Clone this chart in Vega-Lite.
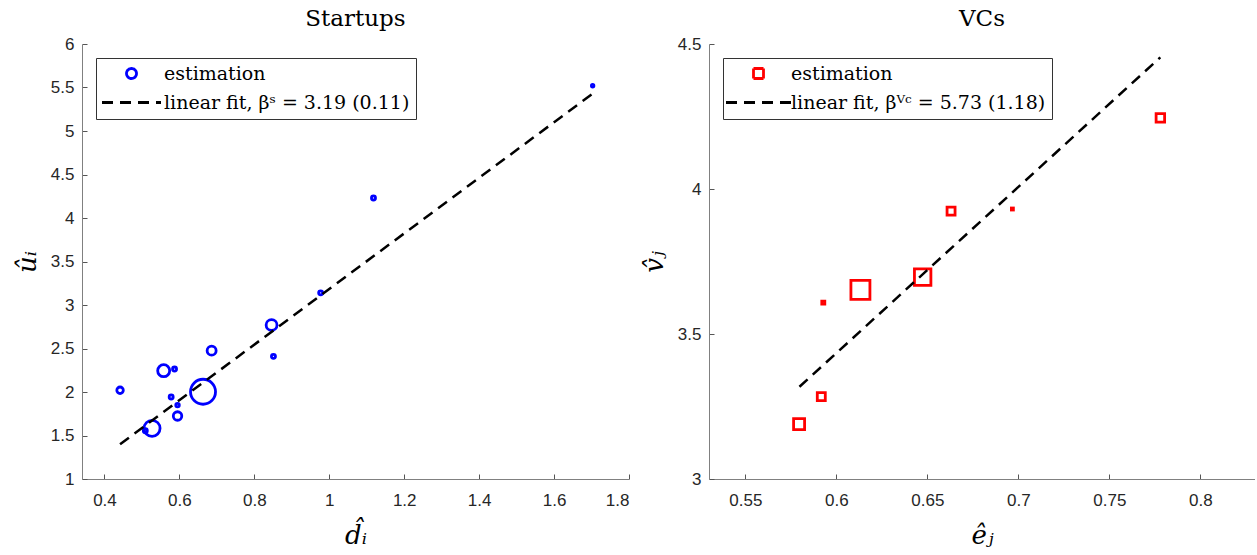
{
  "$schema": "https://vega.github.io/schema/vega-lite/v6.json",
  "background": "white",
  "padding": {"left": 14, "top": 8, "right": 0, "bottom": 0},
  "spacing": 80,
  "bounds": "flush",
  "resolve": {"scale": {"color": "independent", "shape": "independent", "strokeDash": "independent", "size": "independent", "x": "independent", "y": "independent"}, "legend": {"color": "independent", "shape": "independent", "strokeDash": "independent"}},
  "hconcat": [
    {
      "title": {"text": "Startups"},
      "width": 547,
      "height": 435,
      "layer": [
        {
          "data": {"values": [
            {"d": 0.4416, "u": 2.02, "w": 0.067, "series": "estimation"},
            {"d": 0.509, "u": 1.555, "w": 0.026, "series": "estimation"},
            {"d": 0.527, "u": 1.583, "w": 0.41, "series": "estimation"},
            {"d": 0.558, "u": 2.245, "w": 0.23, "series": "estimation"},
            {"d": 0.587, "u": 2.264, "w": 0.026, "series": "estimation"},
            {"d": 0.578, "u": 1.943, "w": 0.026, "series": "estimation"},
            {"d": 0.595, "u": 1.85, "w": 0.02, "series": "estimation"},
            {"d": 0.595, "u": 1.724, "w": 0.115, "series": "estimation"},
            {"d": 0.663, "u": 2.003, "w": 1.0, "series": "estimation"},
            {"d": 0.686, "u": 2.475, "w": 0.13, "series": "estimation"},
            {"d": 0.846, "u": 2.77, "w": 0.19, "series": "estimation"},
            {"d": 0.851, "u": 2.41, "w": 0.026, "series": "estimation"},
            {"d": 0.977, "u": 3.14, "w": 0.026, "series": "estimation"},
            {"d": 1.118, "u": 4.23, "w": 0.026, "series": "estimation"},
            {"d": 1.703, "u": 5.52, "w": 0.01, "series": "estimation"}
          ]},
          "mark": {"type": "point", "filled": false, "strokeWidth": 2.8, "opacity": 1},
          "encoding": {
            "x": {"field": "d", "type": "quantitative", "scale": {"domain": [0.34, 1.8], "nice": false, "zero": false},
                  "axis": {"values": [0.4, 0.6, 0.8, 1, 1.2, 1.4, 1.6, 1.8], "format": "~g", "title": "d̂ᵢ"}},
            "y": {"field": "u", "type": "quantitative", "scale": {"domain": [1, 6], "nice": false, "zero": false},
                  "axis": {"values": [1, 1.5, 2, 2.5, 3, 3.5, 4, 4.5, 5, 5.5, 6], "format": "~g", "title": "ûᵢ"}},
            "size": {"field": "w", "type": "quantitative", "scale": {"domain": [0, 1], "range": [0, 625]}, "legend": null},
            "color": {"field": "series", "type": "nominal",
                      "scale": {"domain": ["estimation", "linear fit, βˢ = 3.19 (0.11)"], "range": ["#0000ff", "#000000"]}},
            "shape": {"field": "series", "type": "nominal",
                      "scale": {"domain": ["estimation", "linear fit, βˢ = 3.19 (0.11)"], "range": ["circle", "M-5.9,0H5.9"]}}
          }
        },
        {
          "data": {"values": [
            {"d": 0.4416, "u": 1.40, "series": "linear fit, βˢ = 3.19 (0.11)"},
            {"d": 1.703, "u": 5.43, "series": "linear fit, βˢ = 3.19 (0.11)"}
          ]},
          "mark": {"type": "line", "strokeWidth": 2.5},
          "encoding": {
            "x": {"field": "d", "type": "quantitative"},
            "y": {"field": "u", "type": "quantitative"},
            "color": {"field": "series", "type": "nominal"},
            "strokeDash": {"field": "series", "type": "nominal",
                           "scale": {"domain": ["estimation", "linear fit, βˢ = 3.19 (0.11)"], "range": [[1, 0], [11, 7]]}}
          }
        }
      ]
    },
    {
      "title": {"text": "VCs"},
      "width": 546,
      "height": 435,
      "layer": [
        {
          "data": {"values": [
            {"e": 0.5795, "v": 3.189, "w": 0.335, "series": "estimation"},
            {"e": 0.5917, "v": 3.284, "w": 0.177, "series": "estimation"},
            {"e": 0.5928, "v": 3.608, "w": 0.025, "series": "estimation"},
            {"e": 0.6132, "v": 3.652, "w": 1.0, "series": "estimation"},
            {"e": 0.6474, "v": 3.696, "w": 0.75, "series": "estimation"},
            {"e": 0.663, "v": 3.924, "w": 0.177, "series": "estimation"},
            {"e": 0.6967, "v": 3.931, "w": 0.011, "series": "estimation"},
            {"e": 0.778, "v": 4.245, "w": 0.2, "series": "estimation"}
          ]},
          "mark": {"type": "point", "filled": false, "strokeWidth": 2.8, "opacity": 1},
          "encoding": {
            "x": {"field": "e", "type": "quantitative", "scale": {"domain": [0.53, 0.83], "nice": false, "zero": false},
                  "axis": {"values": [0.55, 0.6, 0.65, 0.7, 0.75, 0.8], "format": "~g", "title": "êⱼ"}},
            "y": {"field": "v", "type": "quantitative", "scale": {"domain": [3, 4.5], "nice": false, "zero": false},
                  "axis": {"values": [3, 3.5, 4, 4.5], "format": "~g", "title": "v̂ⱼ"}},
            "size": {"field": "w", "type": "quantitative", "scale": {"domain": [0, 1], "range": [0, 361]}, "legend": null},
            "color": {"field": "series", "type": "nominal",
                      "scale": {"domain": ["estimation", "linear fit, βⱽᶜ = 5.73 (1.18)"], "range": ["#ff0000", "#000000"]}},
            "shape": {"field": "series", "type": "nominal",
                      "scale": {"domain": ["estimation", "linear fit, βⱽᶜ = 5.73 (1.18)"], "range": ["square", "M-6.5,0H6.5"]}}
          }
        },
        {
          "data": {"values": [
            {"e": 0.5797, "v": 3.318, "series": "linear fit, βⱽᶜ = 5.73 (1.18)"},
            {"e": 0.778, "v": 4.454, "series": "linear fit, βⱽᶜ = 5.73 (1.18)"}
          ]},
          "mark": {"type": "line", "strokeWidth": 2.5},
          "encoding": {
            "x": {"field": "e", "type": "quantitative"},
            "y": {"field": "v", "type": "quantitative"},
            "color": {"field": "series", "type": "nominal"},
            "strokeDash": {"field": "series", "type": "nominal",
                           "scale": {"domain": ["estimation", "linear fit, βⱽᶜ = 5.73 (1.18)"], "range": [[1, 0], [11, 7]]}}
          }
        }
      ]
    }
  ],
  "config": {
    "view": {"stroke": null},
    "font": "Liberation Sans",
    "axis": {
      "grid": false,
      "domainColor": "#808080", "domainWidth": 1,
      "tickColor": "#555555", "tickWidth": 1, "tickSize": -5,
      "labelFont": "Liberation Sans", "labelFontSize": 17, "labelColor": "#262626",
      "titleFont": "DejaVu Serif", "titleFontStyle": "italic", "titleFontWeight": "normal",
      "titleFontSize": 26, "titleColor": "#000000"
    },
    "axisX": {"labelPadding": 18, "titlePadding": 14},
    "axisY": {"labelPadding": 13, "titlePadding": 10},
    "legend": {
      "title": null, "orient": "top-left", "offset": 14,
      "symbolSize": 100, "symbolStrokeWidth": 2.8, "symbolOffset": 20,
      "labelFont": "DejaVu Serif", "labelFontSize": 19, "labelColor": "#000000", "labelOffset": 23, "labelLimit": 400,
      "strokeColor": "#333333", "fillColor": "#ffffff", "padding": 6, "rowPadding": 8
    },
    "title": {"font": "DejaVu Serif", "fontSize": 23, "fontWeight": "normal", "color": "#000000", "offset": 4}
  }
}
